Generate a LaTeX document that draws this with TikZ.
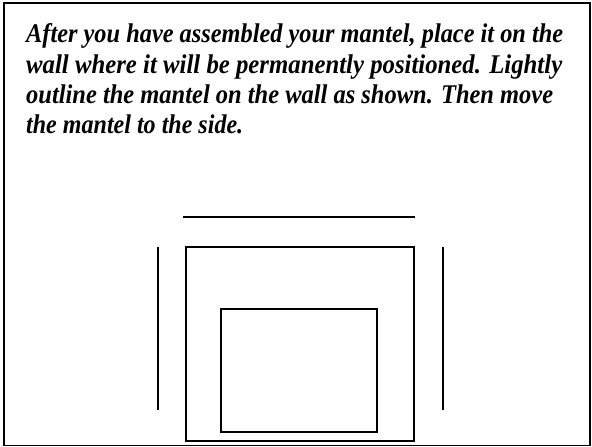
\documentclass[tikz,border=0pt]{standalone}
\usepackage{fontspec}
\usepackage{graphicx}
\setmainfont{Liberation Serif}
\newlength{\fitlen}
\newcommand{\fitline}[2]{\settowidth{\fitlen}{#2}\scalebox{\fpeval{#1pt/\fitlen}}[1]{#2}}
\tikzset{
  txt/.style={anchor=base west, inner sep=0pt, font=\fontsize{27}{30}\selectfont\bfseries\itshape},
  frameline/.style={draw=black, line width=1.6pt},
  thin/.style={draw=black, line width=1.2pt}
}
\begin{document}
\begin{tikzpicture}[x=1pt,y=-1pt]
\useasboundingbox (0,0) rectangle (592,447);
\draw[frameline] (4,3) rectangle (590,445.5);
\node[txt] (l1) at (26,42) {\fitline{537}{After you have assembled your mantel, place it on the}};
\node[txt] (l2) at (26,73) {\fitline{536}{wall where it will be permanently positioned. Lightly}};
\node[txt] (l3) at (26,103) {\fitline{527}{outline the mantel on the wall as shown. Then move}};
\node[txt] (l4) at (26,133) {\fitline{217}{the mantel to the side.}};
% mantel outline
\draw[thin] (183,217) -- (415,217);
\draw[thin] (186,247) rectangle (414,441);
\draw[thin] (221,309) rectangle (377,432);
\draw[thin] (158,247) -- (158,410);
\draw[thin] (443,247) -- (443,410);
\end{tikzpicture}
\end{document}
